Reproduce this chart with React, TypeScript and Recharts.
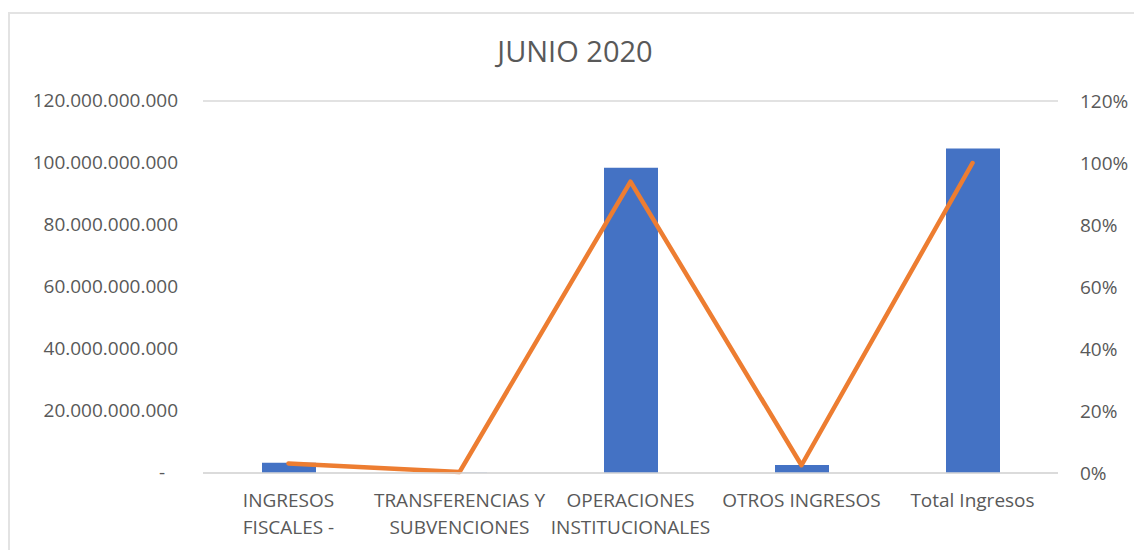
import { ComposedChart, Bar, Line, XAxis, YAxis, CartesianGrid } from 'recharts';

// Ingresos junio 2020: monto (barras) y participación (línea)
const categories = [
  'INGRESOS FISCALES -',
  'TRANSFERENCIAS Y SUBVENCIONES',
  'OPERACIONES INSTITUCIONALES',
  'OTROS INGRESOS',
  'Total Ingresos',
];
const tickLines = [
  ['INGRESOS', 'FISCALES -'],
  ['TRANSFERENCIAS Y', 'SUBVENCIONES'],
  ['OPERACIONES', 'INSTITUCIONALES'],
  ['OTROS INGRESOS'],
  ['Total Ingresos'],
];
const montos = [3_300_000_000, 100_000_000, 98_500_000_000, 2_600_000_000, 104_700_000_000];
const participacion = [0.031, 0.003, 0.94, 0.025, 1.0];
const leftTicks = [0, 20e9, 40e9, 60e9, 80e9, 100e9, 120e9];
const rightTicks = [0, 0.2, 0.4, 0.6, 0.8, 1.0, 1.2];

const BLUE = '#4472C4';
const ORANGE = '#ED7D31';
const GRID = '#d9d9d9';
const TEXT = '#595959';
const FONT = '"Open Sans", "Liberation Sans", sans-serif';

const rows = categories.map((c, i) => ({
  name: c,
  monto: montos[i],
  pct: participacion[i],
}));

const fmtMonto = (n: number) =>
  n === 0 ? '-' : Math.round(n).toString().replace(/\B(?=(\d{3})+(?!\d))/g, '.');

function LeftTick(props: any) {
  const { x, y, payload } = props;
  const v = payload.value as number;
  return (
    <text
      x={v === 0 ? x - 13 : x}
      y={y}
      dy={6}
      textAnchor="end"
      fill={TEXT}
      fontSize={19}
      fontFamily={FONT}
    >
      {fmtMonto(v)}
    </text>
  );
}

function CatTick(props: any) {
  const { x, y, index } = props;
  const lines = tickLines[index] ?? [];
  return (
    <text x={x} y={y} textAnchor="middle" fill={TEXT} fontSize={19} fontFamily={FONT}>
      {lines.map((l, i) => (
        <tspan key={i} x={x} dy={i === 0 ? 26 : 27}>
          {l}
        </tspan>
      ))}
    </text>
  );
}

export default function App() {
  return (
    <div style={{ position: 'absolute', left: 0, top: 0, width: 1134, height: 550, background: '#fff' }}>
      <div
        style={{
          position: 'absolute',
          left: 8,
          top: 12,
          width: 1140,
          height: 560,
          borderLeft: `2px solid #e3e3e3`,
          borderTop: `2px solid #e3e3e3`,
        }}
      />
      <div
        style={{
          position: 'absolute',
          left: 0,
          width: 1150,
          top: 31,
          textAlign: 'center',
          fontFamily: FONT,
          fontSize: 29,
          color: TEXT,
        }}
      >
        JUNIO 2020
      </div>
      <div style={{ position: 'absolute', left: 0, top: 0 }}>
        <ComposedChart
          width={1134}
          height={550}
          data={rows}
          margin={{ top: 101, right: 0, left: 0, bottom: 0 }}
        >
          <CartesianGrid vertical={false} stroke={GRID} strokeWidth={1.5} />
          <XAxis
            dataKey="name"
            interval={0}
            height={77}
            axisLine={{ stroke: GRID, strokeWidth: 1.5 }}
            tickLine={false}
            tick={<CatTick />}
          />
          <YAxis
            yAxisId="left"
            width={203}
            domain={[0, 120e9]}
            ticks={leftTicks}
            axisLine={false}
            tickLine={false}
            tickSize={0}
            tickMargin={25}
            tick={<LeftTick />}
          />
          <YAxis
            yAxisId="right"
            orientation="right"
            width={76}
            domain={[0, 1.2]}
            ticks={rightTicks}
            axisLine={false}
            tickLine={false}
            tickSize={0}
            tickMargin={22}
            tickFormatter={(v: number) => `${Math.round(v * 100)}%`}
            tick={{ fill: TEXT, fontSize: 19, fontFamily: FONT, textAnchor: 'start' }}
          />
          <Bar yAxisId="left" dataKey="monto" fill={BLUE} barSize={54} isAnimationActive={false} />
          <Line
            yAxisId="right"
            dataKey="pct"
            stroke={ORANGE}
            strokeWidth={4.5}
            strokeLinecap="round"
            strokeLinejoin="round"
            dot={false}
            activeDot={false}
            type="linear"
            isAnimationActive={false}
          />
        </ComposedChart>
      </div>
    </div>
  );
}
